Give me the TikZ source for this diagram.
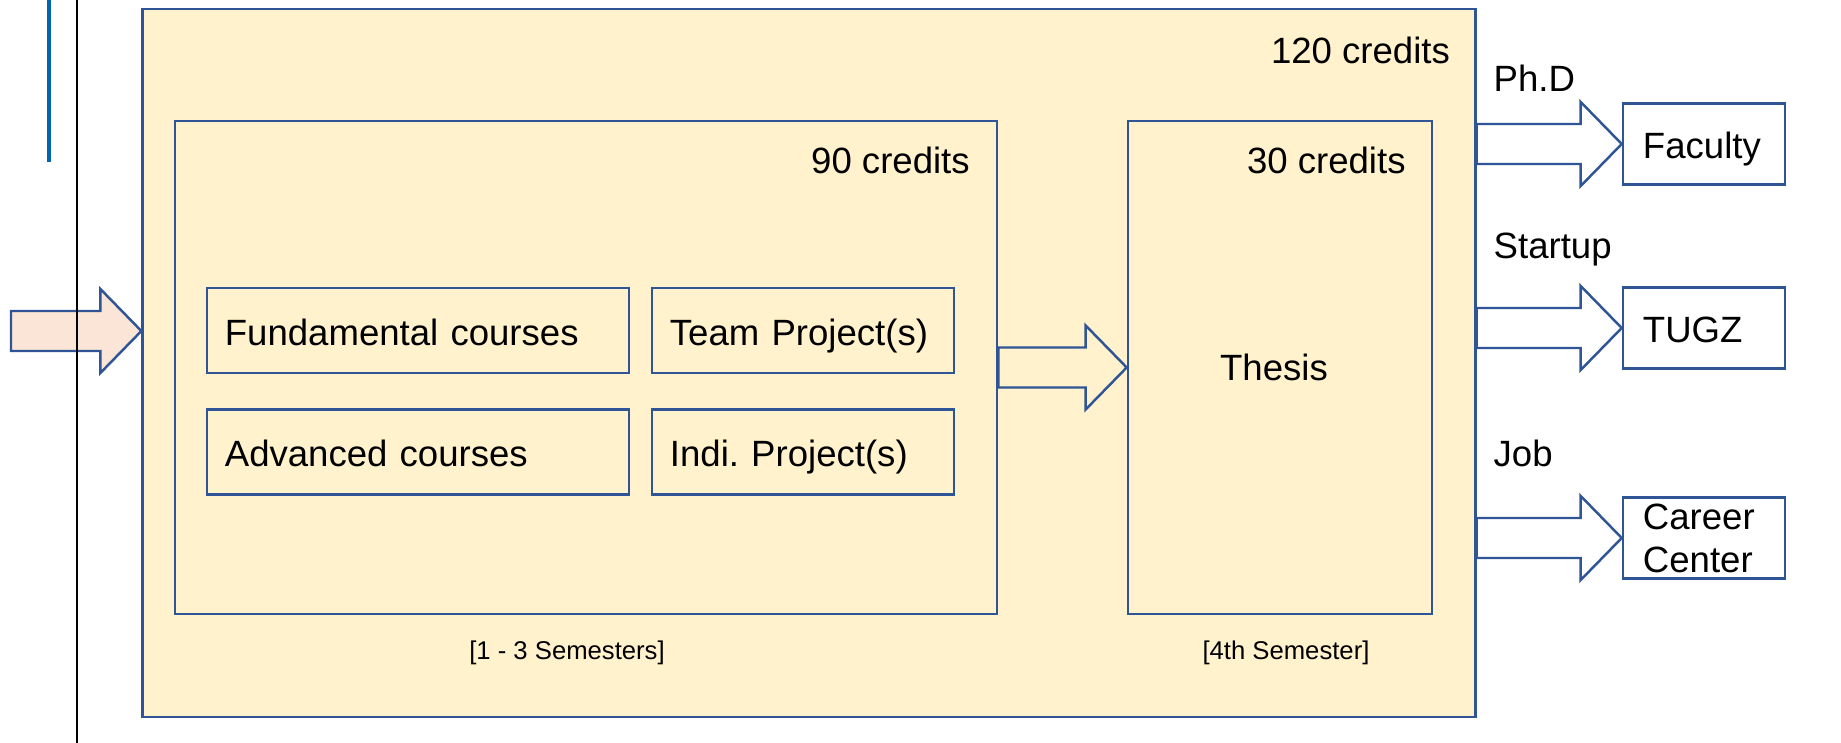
\documentclass[tikz,border=0pt]{standalone}
\usepackage{fontspec}
\setmainfont{Liberation Sans}
\usepackage{xcolor}
\usepackage{tikz}
\usetikzlibrary{calc}

\definecolor{edgeblue}{RGB}{47,85,151}
\definecolor{panelyellow}{RGB}{255,242,204}
\definecolor{entrypeach}{RGB}{251,229,214}
\definecolor{barblue}{RGB}{0,102,179}

% block arrow from the first point to the second (height taken from the first)
\newcommand{\blockarrow}[3][]{%
  \draw[barrow,#1] let \p1=(#2), \p2=(#3) in
    (\x1,{\y1+0.2cm}) -- ({\x2-0.41cm},{\y1+0.2cm}) -- ({\x2-0.41cm},{\y1+0.42cm})
    -- (\x2,\y1) -- ({\x2-0.41cm},{\y1-0.42cm}) -- ({\x2-0.41cm},{\y1-0.2cm})
    -- (\x1,{\y1-0.2cm}) -- cycle;}

\begin{document}
\frenchspacing
\begin{tikzpicture}[x=0.01cm, y=-0.01cm,
    every node/.style={font=\fontsize{10.4}{12.2}\selectfont},
    panel/.style={draw=edgeblue, line width=0.7pt},
    oneline/.style={text height=0.84em, text depth=0pt},
    coursebox/.style={draw=edgeblue, line width=0.7pt, minimum height=0.85cm,
      text width=#1, align=left, inner xsep=0.18cm, oneline},
    exitbox/.style={draw=edgeblue, line width=0.7pt, fill=white, minimum height=0.81cm,
      text width=1.22cm, align=left, inner xsep=0.2cm, inner ysep=0pt},
    credits/.style={anchor=east, inner sep=0pt},
    barrow/.style={draw=edgeblue, line width=0.7pt, fill=white},
    note/.style={font=\fontsize{7.3}{9}\selectfont}]
        \useasboundingbox (0,0) rectangle (1841,743);

        % Master programme
        \node[panel, fill=panelyellow, minimum width=13.32cm, minimum height=7.08cm] (master) at (809,363) {};
        \node[credits] (c120) at ([xshift=-0.26cm,yshift=-0.43cm]master.north east) {120 credits};

        % Courses and projects
        \node[panel, minimum width=8.22cm, minimum height=4.93cm] (courses) at (586,367.5) {};
        \node[credits] (c90) at ([xshift=-0.28cm,yshift=-0.41cm]courses.north east) {90 credits};
        \node[coursebox=3.86cm] (fund) at (418,330.5) {Fundamental courses};
        \node[coursebox=2.66cm] (team) at (803,330.5) {Team Project(s)};
        \node[coursebox=3.86cm] (adv) at (418,452) {Advanced courses};
        \node[coursebox=2.66cm] (indi) at (803,452) {Indi. Project(s)};

        % Thesis
        \node[panel, minimum width=3.04cm, minimum height=4.93cm] (thesis) at (1280,367.5) {};
        \node (thesislabel) at ([xshift=-0.06cm]thesis.center) {Thesis};
        \node[credits] (c30) at ([xshift=-0.27cm,yshift=-0.41cm]thesis.north east) {30 credits};

        % Semesters
        \node[note] (sem13) at (567,653) {[1 - 3 Semesters]};
        \node[note] (sem4) at (1286,653) {[4th Semester]};

        % After the degree
        \node[exitbox, oneline] (faculty) at (1704,144) {Faculty};
        \node[exitbox, oneline] (tugz) at (1704,328) {TUGZ};
        \node[exitbox] (career) at (1704,538) {Career\\Center};
        \node[anchor=west, inner sep=0pt] (phd) at (1493,78) {Ph.D};
        \node[anchor=west, inner sep=0pt] (startup) at (1493,250) {Startup};
        \node[anchor=west, inner sep=0pt] (job) at (1493,453) {Job};

        % Connections
        \coordinate (entry) at (11,331);
        \blockarrow[fill=entrypeach]{entry}{master.west}
        \blockarrow[fill=panelyellow]{courses.east}{thesis.west}
        \blockarrow{master.east |- faculty.west}{faculty.west}
        \blockarrow{master.east |- tugz.west}{tugz.west}
        \blockarrow{master.east |- career.west}{career.west}

        % Margin lines
        \draw[barblue, line width=1.4pt] (49,0) -- (49,162);
        \draw[black, line width=0.6pt] (77,0) -- (77,743);
    \end{tikzpicture}
\end{document}
